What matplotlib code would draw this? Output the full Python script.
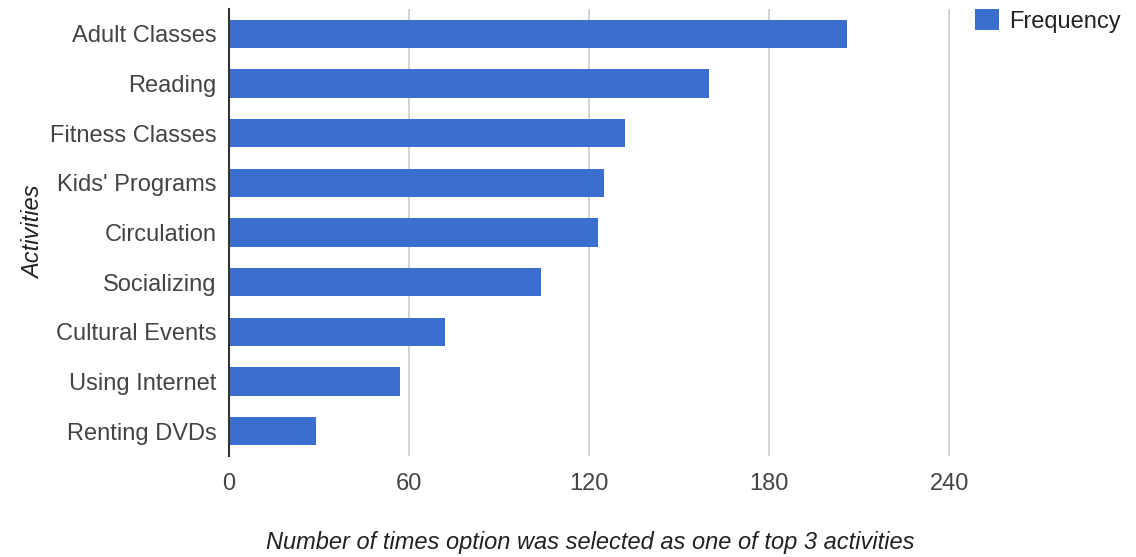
import matplotlib
matplotlib.use("Agg")
import matplotlib.pyplot as plt

# Survey results: how often each option was picked among the top 3 activities
activities = ["Adult Classes", "Reading", "Fitness Classes", "Kids' Programs",
              "Circulation", "Socializing", "Cultural Events", "Using Internet",
              "Renting DVDs"]
frequency = [206, 160, 132, 125, 123, 104, 72, 57, 29]
x_ticks = [0, 60, 120, 180, 240]

plt.rcParams["font.family"] = ["Liberation Sans", "DejaVu Sans"]
text_color = "#444444"
bar_color = "#3a6ecf"

fig = plt.figure(figsize=(11.36, 5.57), dpi=100)
W, H = 1136, 557
left, right, top, bottom = 229, 951, 9, 456
ax = fig.add_axes([left / W, 1 - bottom / H, (right - left) / W, (bottom - top) / H])

ypos = list(range(len(activities)))
ax.barh(ypos, frequency, height=0.57, color=bar_color, label="Frequency", zorder=3)
ax.set_ylim(len(activities) - 0.5, -0.5)
ax.set_xlim(0, 240.5)

ax.set_yticks(ypos)
ax.set_yticklabels(activities, fontsize=17, color=text_color)
ax.set_xticks(x_ticks)
ax.set_xticklabels([str(v) for v in x_ticks], fontsize=17, color=text_color)
ax.tick_params(axis="both", length=0)
ax.tick_params(axis="y", pad=9)
ax.tick_params(axis="x", pad=12)

ax.grid(axis="x", color="#cccccc", linewidth=1.2, zorder=0)
for side in ["top", "right", "bottom"]:
    ax.spines[side].set_visible(False)
ax.spines["left"].set_color("#333333")
ax.spines["left"].set_linewidth(1.5)
ax.spines["left"].set_zorder(4)

fig.text(590 / W, 1 - 543 / H,
         "Number of times option was selected as one of top 3 activities",
         ha="center", va="center", fontsize=17, style="italic", color="#222222")
fig.text(34 / W, 1 - 232 / H, "Activities", ha="center", va="center",
         rotation=90, fontsize=17, style="italic", color="#222222")

fig.legend(loc="upper left", bbox_to_anchor=(975 / W, 1 - 9 / H), frameon=False,
           fontsize=17, handlelength=1.0, handleheight=1.0, handletextpad=0.45,
           borderpad=0, borderaxespad=0, labelcolor="#222222")

fig.savefig("out.png", dpi=100, facecolor="white")
